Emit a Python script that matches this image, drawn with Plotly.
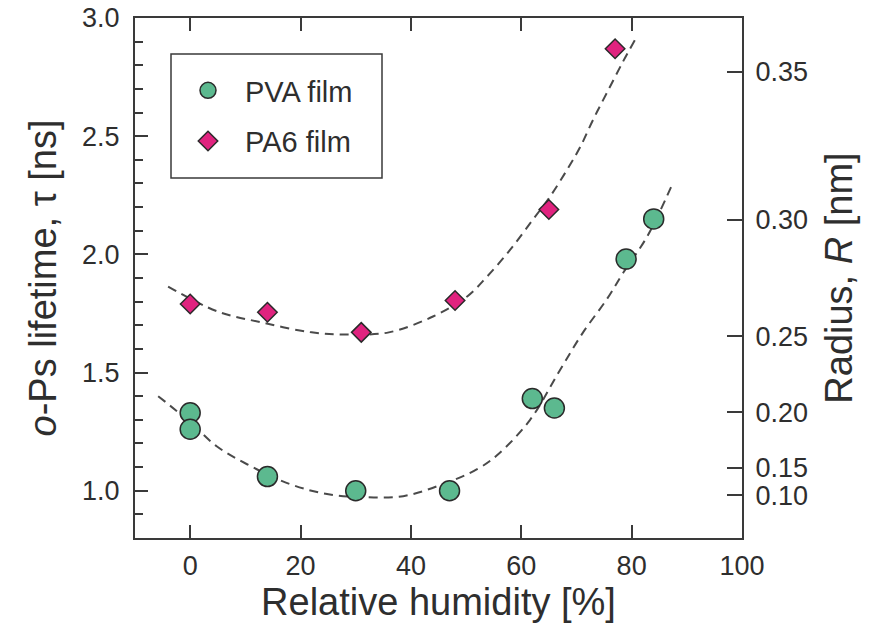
import plotly.graph_objects as go

# ---- data ----
pva_rh = [0, 0, 14, 30, 47, 62, 66, 79, 84]
pva_tau = [1.33, 1.26, 1.06, 1.00, 1.00, 1.39, 1.35, 1.98, 2.15]

pa6_rh = [0, 14, 31, 48, 65, 77]
pa6_tau = [1.79, 1.755, 1.67, 1.805, 2.19, 2.87]

# dashed guide curves
pva_fit_rh = [-5.8, 0, 4.8, 10.3, 18.1, 24.8, 31.3, 38.6, 45.8, 52, 55.6, 61.6, 67, 71.2, 75.5, 78.5, 82.8, 87.5]
pva_fit_tau = [1.40, 1.29, 1.188, 1.112, 1.028, 0.986, 0.973, 0.977, 1.028, 1.091, 1.150, 1.30, 1.51, 1.67, 1.81, 1.923, 2.075, 2.303]

pa6_fit_rh = [-4, 5, 13, 22, 29, 36, 44, 50.2, 53.8, 58, 62.1, 65.2, 68.3, 70.7, 73, 75.5, 78.4, 80.6]
pa6_fit_tau = [1.864, 1.758, 1.712, 1.670, 1.661, 1.670, 1.737, 1.822, 1.906, 2.020, 2.147, 2.244, 2.358, 2.455, 2.569, 2.683, 2.814, 2.907]

x_ticks = [0, 20, 40, 60, 80, 100]
radius_labels = ["0.35", "0.30", "0.25", "0.20", "0.15", "0.10"]
radius_tau_equiv = [2.773, 2.147, 1.654, 1.331, 1.098, 0.981]

# ---- style ----
FONT = "Liberation Sans, Arial, Helvetica, sans-serif"
AX = "#3a3a3a"
GREEN = "#5cb98f"
MAGENTA = "#e0237f"
EDGE = "#2a2a2a"
DASH = "#4a4a4a"
TICKFONT = 27
TITLEFONT = 38

fig = go.Figure()

fig.add_trace(go.Scatter(x=pva_fit_rh, y=pva_fit_tau, mode="lines",
                         line=dict(color=DASH, width=2, dash="9px,6px", shape="spline", smoothing=1.0),
                         showlegend=False, hoverinfo="skip"))
fig.add_trace(go.Scatter(x=pa6_fit_rh, y=pa6_fit_tau, mode="lines",
                         line=dict(color=DASH, width=2, dash="9px,6px", shape="spline", smoothing=1.0),
                         showlegend=False, hoverinfo="skip"))

fig.add_trace(go.Scatter(x=pva_rh, y=pva_tau, mode="markers", name="PVA film",
                         legendgroup="a",
                         marker=dict(symbol="circle", size=20, color=GREEN,
                                     line=dict(color=EDGE, width=1.5))))
fig.add_trace(go.Scatter(x=pa6_rh, y=pa6_tau, mode="markers", name="PA6 film",
                         legendgroup="b",
                         marker=dict(symbol="diamond", size=15, color=MAGENTA,
                                     line=dict(color=EDGE, width=1.5))))

W, H = 874, 627
L, R, T, B = 135, 132, 18, 89

fig.update_layout(
    width=W, height=H,
    margin=dict(l=L, r=R, t=T, b=B, autoexpand=False),
    paper_bgcolor="white", plot_bgcolor="white",
    font=dict(family=FONT, color="#2e2e2e", size=TICKFONT),
    xaxis=dict(
        range=[-10, 100], tickvals=x_ticks, ticks="inside", ticklen=13, tickwidth=2,
        tickcolor=AX, showline=True, linecolor=AX, linewidth=2, mirror="ticks",
        showgrid=False, zeroline=False, tickfont=dict(size=TICKFONT), ticklabelstandoff=3,
        title=dict(text="Relative humidity [%]", font=dict(size=TITLEFONT), standoff=8),
    ),
    yaxis=dict(
        range=[0.8, 3.0], tick0=1.0, dtick=0.5, tickformat=".1f", ticks="inside", ticklen=13,
        tickwidth=2, tickcolor=AX, showline=True, linecolor=AX, linewidth=2, mirror=False,
        showgrid=False, zeroline=False, tickfont=dict(size=TICKFONT), ticklabelstandoff=8,
        minor=dict(dtick=0.1, ticks="inside", ticklen=8, tickwidth=2, tickcolor=AX, showgrid=False),
        title=dict(text="<i>o</i>-Ps lifetime, τ [ns]", font=dict(size=TITLEFONT), standoff=14),
    ),
    yaxis2=dict(
        overlaying="y", side="right", range=[0.8, 3.0],
        tickvals=radius_tau_equiv, ticktext=radius_labels, ticks="inside", ticklen=15,
        tickwidth=2, tickcolor=AX, showline=True, linecolor=AX, linewidth=2,
        showgrid=False, zeroline=False, tickfont=dict(size=TICKFONT), ticklabelstandoff=6,
        title=dict(text="Radius, <i>R</i> [nm]", font=dict(size=TITLEFONT), standoff=18),
    ),
    legend=dict(
        x=(171 - L) / (W - L - R), y=(538 - 65) / (H - T - B), xanchor="left", yanchor="top",
        bgcolor="rgba(0,0,0,0)", borderwidth=0, itemwidth=64,
        font=dict(size=29), tracegroupgap=10, traceorder="grouped",
    ),
    shapes=[dict(type="rect", xref="paper", yref="paper",
                 x0=(171 - L) / (W - L - R), x1=(382 - L) / (W - L - R),
                 y0=(538 - 178) / (H - T - B), y1=(538 - 54) / (H - T - B),
                 line=dict(color=AX, width=1.5), fillcolor="rgba(0,0,0,0)", layer="below")],
)

# an invisible trace so the right axis is bound to data
fig.add_trace(go.Scatter(x=[None], y=[None], yaxis="y2", showlegend=False, hoverinfo="skip"))

fig.write_html("out.html")
